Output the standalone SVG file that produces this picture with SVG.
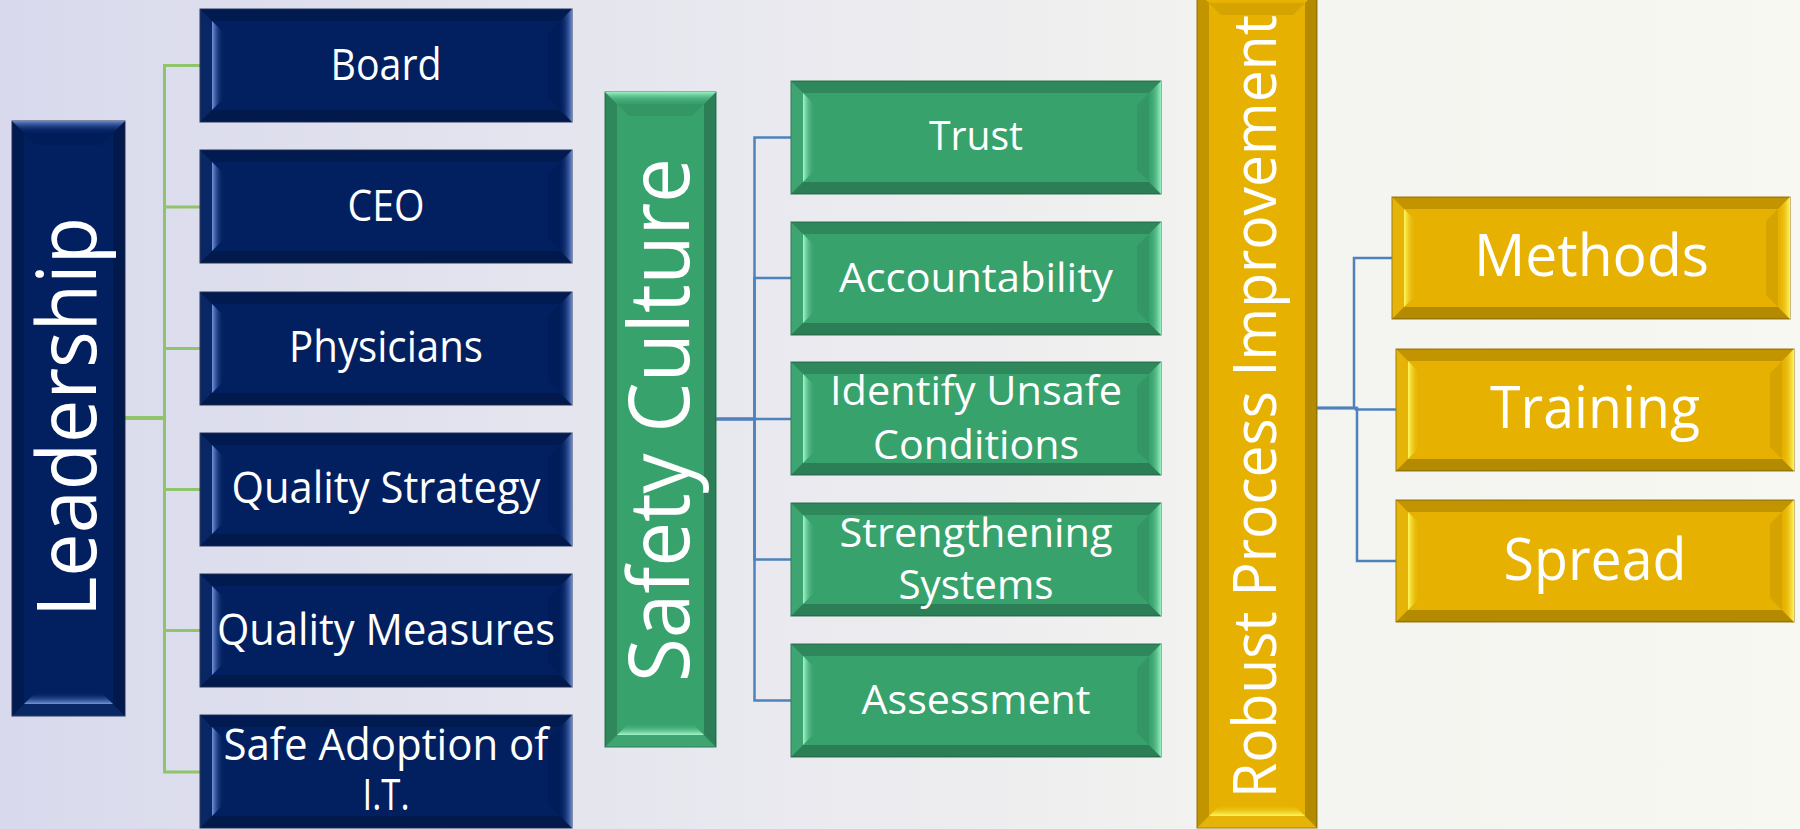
<svg xmlns="http://www.w3.org/2000/svg" xmlns:xlink="http://www.w3.org/1999/xlink" width="1800" height="829" viewBox="0 0 1800 829">
<style>
text{font-family:"Open Sans","Liberation Sans",sans-serif;fill:#ffffff;text-anchor:middle}
.t1{font-size:43px}
.t2{font-size:40px}
.t3{font-size:58px}
.dkT{fill:#000;fill-opacity:.16}
.dkB{fill:#000;fill-opacity:.22}
.dkL{fill:#fff;fill-opacity:.03}
.dkR{fill:#000;fill-opacity:.07}
.navy{fill:#022060;stroke:#27365e;stroke-width:1}
.green{fill:#38a26d;stroke:#2d7a54;stroke-width:1}
.gold{fill:#e6b100;stroke:#9b7a12;stroke-width:1}
.cg{fill:none;stroke:#8fc46b;stroke-width:3}
.cb{fill:none;stroke:#4f81bd;stroke-width:2.5}
</style>
<defs>
<linearGradient id="bg" x1="0" y1="0" x2="1" y2="0">
<stop offset="0" stop-color="#d8d9ec"/>
<stop offset="0.4" stop-color="#e8e8ef"/>
<stop offset="0.7" stop-color="#f3f3f0"/>
<stop offset="1" stop-color="#f8f8f2"/>
</linearGradient>
<linearGradient id="hlLn" x1="0" y1="0" x2="1" y2="0"><stop offset="0" stop-color="#7394dc"/><stop offset="1" stop-color="#022060" stop-opacity="0"/></linearGradient>
<linearGradient id="hlRn" x1="0" y1="0" x2="1" y2="0"><stop offset="0" stop-color="#022060" stop-opacity="0"/><stop offset="1" stop-color="#6688d0"/></linearGradient>
<linearGradient id="hlLg" x1="0" y1="0" x2="1" y2="0"><stop offset="0" stop-color="#a2f7cb"/><stop offset="1" stop-color="#38a26d" stop-opacity="0"/></linearGradient>
<linearGradient id="hlRg" x1="0" y1="0" x2="1" y2="0"><stop offset="0" stop-color="#38a26d" stop-opacity="0"/><stop offset="1" stop-color="#98f2c3"/></linearGradient>
<linearGradient id="hlLy" x1="0" y1="0" x2="1" y2="0"><stop offset="0" stop-color="#fff95c"/><stop offset="1" stop-color="#e6b100" stop-opacity="0"/></linearGradient>
<linearGradient id="hlRy" x1="0" y1="0" x2="1" y2="0"><stop offset="0" stop-color="#e6b100" stop-opacity="0"/><stop offset="1" stop-color="#fff65a"/></linearGradient>

<g id="boxN">
<rect class="navy" x="0" y="0" width="372" height="113"/>
<polygon class="dkT" points="0,0 372,0 360,12 12,12"/>
<polygon class="dkB" points="0,113 372,113 360,101 12,101"/>
<polygon class="dkL" points="0,0 12,12 12,101 0,113"/>
<polygon fill="url(#hlLn)" points="12,12 24,24 24,89 12,101"/>
<polygon class="dkR" points="360,12 348,24 348,89 360,101"/>
<polygon fill="url(#hlRn)" points="372,0 372,113 360,101 360,12"/>
</g>
<g id="boxG">
<rect class="green" x="0" y="0" width="370" height="113"/>
<polygon class="dkT" points="0,0 370,0 358,12 12,12"/>
<polygon class="dkB" points="0,113 370,113 358,101 12,101"/>
<polygon class="dkL" points="0,0 12,12 12,101 0,113"/>
<polygon fill="url(#hlLg)" points="12,12 24,24 24,89 12,101"/>
<polygon class="dkR" points="358,12 346,24 346,89 358,101"/>
<polygon fill="url(#hlRg)" points="370,0 370,113 358,101 358,12"/>
</g>
<g id="boxY">
<rect class="gold" x="0" y="0" width="398" height="122"/>
<polygon class="dkT" points="0,0 398,0 386,12 12,12"/>
<polygon class="dkB" points="0,122 398,122 386,110 12,110"/>
<polygon class="dkL" points="0,0 12,12 12,110 0,122"/>
<polygon fill="url(#hlLy)" points="12,12 24,24 24,98 12,110"/>
<polygon class="dkR" points="386,12 374,24 374,98 386,110"/>
<polygon fill="url(#hlRy)" points="398,0 398,122 386,110 386,12"/>
</g>
</defs>

<rect x="0" y="0" width="1800" height="829" fill="url(#bg)"/>

<g id="connectors">
<path class="cg" d="M125 418 H164.5 V65.5 H200"/>
<path class="cg" d="M125 418 H164.5 V207 H200"/>
<path class="cg" d="M125 418 H164.5 V348.5 H200"/>
<path class="cg" d="M125 418 H164.5 V489.5 H200"/>
<path class="cg" d="M125 418 H164.5 V630.5 H200"/>
<path class="cg" d="M125 418 H164.5 V772 H200"/>
<path class="cb" d="M716 419 H754.5 V137.5 H791"/>
<path class="cb" d="M716 419 H754.5 V278 H791"/>
<path class="cb" d="M716 419 H754.5 V419 H791"/>
<path class="cb" d="M716 419 H754.5 V559.5 H791"/>
<path class="cb" d="M716 419 H754.5 V700.5 H791"/>
<path class="cb" d="M1317 408 H1354 V258 H1392"/>
<path class="cb" d="M1317 408 H1356 V409.5 H1396"/>
<path class="cb" d="M1317 408 H1357 V561 H1396"/>
</g>

<g id="leadership" transform="translate(12,716) rotate(-90)">
<rect class="navy" x="0" y="0" width="595" height="113"/>
<polygon class="dkT" points="0,0 595,0 583,12 12,12"/>
<polygon class="dkB" points="0,113 595,113 583,101 12,101"/>
<polygon class="dkL" points="0,0 12,12 12,101 0,113"/>
<polygon fill="url(#hlLn)" points="12,12 24,24 24,89 12,101"/>
<polygon class="dkR" points="583,12 571,24 571,89 583,101"/>
<polygon fill="url(#hlRn)" points="595,0 595,113 583,101 583,12"/>
<text x="299" y="84" style="font-size:82px" textLength="400" lengthAdjust="spacingAndGlyphs">Leadership</text>
</g>

<g id="board" transform="translate(200,9)"><use xlink:href="#boxN"/><text class="t1" x="186" y="71" textLength="111" lengthAdjust="spacingAndGlyphs">Board</text></g>
<g id="ceo" transform="translate(200,150)"><use xlink:href="#boxN"/><text class="t1" x="186" y="71" textLength="77" lengthAdjust="spacingAndGlyphs">CEO</text></g>
<g id="physicians" transform="translate(200,292)"><use xlink:href="#boxN"/><text class="t1" x="186" y="70" textLength="194" lengthAdjust="spacingAndGlyphs">Physicians</text></g>
<g id="quality-strategy" transform="translate(200,433)"><use xlink:href="#boxN"/><text class="t1" x="186" y="70" textLength="309" lengthAdjust="spacingAndGlyphs">Quality Strategy</text></g>
<g id="quality-measures" transform="translate(200,574)"><use xlink:href="#boxN"/><text class="t1" x="186" y="71" textLength="338" lengthAdjust="spacingAndGlyphs">Quality Measures</text></g>
<g id="safe-adoption" transform="translate(200,715)"><use xlink:href="#boxN"/><text class="t1" x="186" y="45" textLength="325" lengthAdjust="spacingAndGlyphs">Safe Adoption of</text><text class="t1" x="186" y="95" textLength="47" lengthAdjust="spacingAndGlyphs">I.T.</text></g>

<g id="safety-culture" transform="translate(605,747) rotate(-90)">
<rect class="green" x="0" y="0" width="655" height="111"/>
<polygon class="dkT" points="0,0 655,0 643,12 12,12"/>
<polygon class="dkB" points="0,111 655,111 643,99 12,99"/>
<polygon class="dkL" points="0,0 12,12 12,99 0,111"/>
<polygon fill="url(#hlLg)" points="12,12 24,24 24,87 12,99"/>
<polygon class="dkR" points="643,12 631,24 631,87 643,99"/>
<polygon fill="url(#hlRg)" points="655,0 655,111 643,99 643,12"/>
<text x="327" y="84" style="font-size:84px" textLength="524" lengthAdjust="spacingAndGlyphs">Safety Culture</text>
</g>

<g id="trust" transform="translate(791,81)"><use xlink:href="#boxG"/><text class="t2" x="185" y="69" textLength="94" lengthAdjust="spacingAndGlyphs">Trust</text></g>
<g id="accountability" transform="translate(791,222)"><use xlink:href="#boxG"/><text class="t2" x="185" y="70" textLength="274" lengthAdjust="spacingAndGlyphs">Accountability</text></g>
<g id="identify-unsafe" transform="translate(791,362)"><use xlink:href="#boxG"/><text class="t2" x="185" y="43" textLength="292" lengthAdjust="spacingAndGlyphs">Identify Unsafe</text><text class="t2" x="185" y="97" textLength="206" lengthAdjust="spacingAndGlyphs">Conditions</text></g>
<g id="strengthening" transform="translate(791,503)"><use xlink:href="#boxG"/><text class="t2" x="185" y="44" textLength="273" lengthAdjust="spacingAndGlyphs">Strengthening</text><text class="t2" x="185" y="96" textLength="155" lengthAdjust="spacingAndGlyphs">Systems</text></g>
<g id="assessment" transform="translate(791,644)"><use xlink:href="#boxG"/><text class="t2" x="185" y="70" textLength="229" lengthAdjust="spacingAndGlyphs">Assessment</text></g>

<g id="robust-process-improvement" transform="translate(1197,828) rotate(-90)">
<rect class="gold" x="0" y="0" width="837" height="120"/>
<polygon class="dkT" points="0,0 837,0 825,12 12,12"/>
<polygon class="dkB" points="0,120 837,120 825,108 12,108"/>
<polygon class="dkL" points="0,0 12,12 12,108 0,120"/>
<polygon fill="url(#hlLy)" points="12,12 24,24 24,96 12,108"/>
<polygon class="dkR" points="825,12 813,24 813,96 825,108"/>
<polygon fill="url(#hlRy)" points="837,0 837,120 825,108 825,12"/>
<text x="421.5" y="79" style="font-size:60px" textLength="783" lengthAdjust="spacingAndGlyphs">Robust Process Improvement</text>
</g>

<g id="methods" transform="translate(1392,197)"><use xlink:href="#boxY"/><text class="t3" x="199.5" y="79" textLength="235" lengthAdjust="spacingAndGlyphs">Methods</text></g>
<g id="training" transform="translate(1396,349)"><use xlink:href="#boxY"/><text class="t3" x="199" y="79" textLength="210" lengthAdjust="spacingAndGlyphs">Training</text></g>
<g id="spread" transform="translate(1396,500)"><use xlink:href="#boxY"/><text class="t3" x="199" y="80" textLength="183" lengthAdjust="spacingAndGlyphs">Spread</text></g>
</svg>
